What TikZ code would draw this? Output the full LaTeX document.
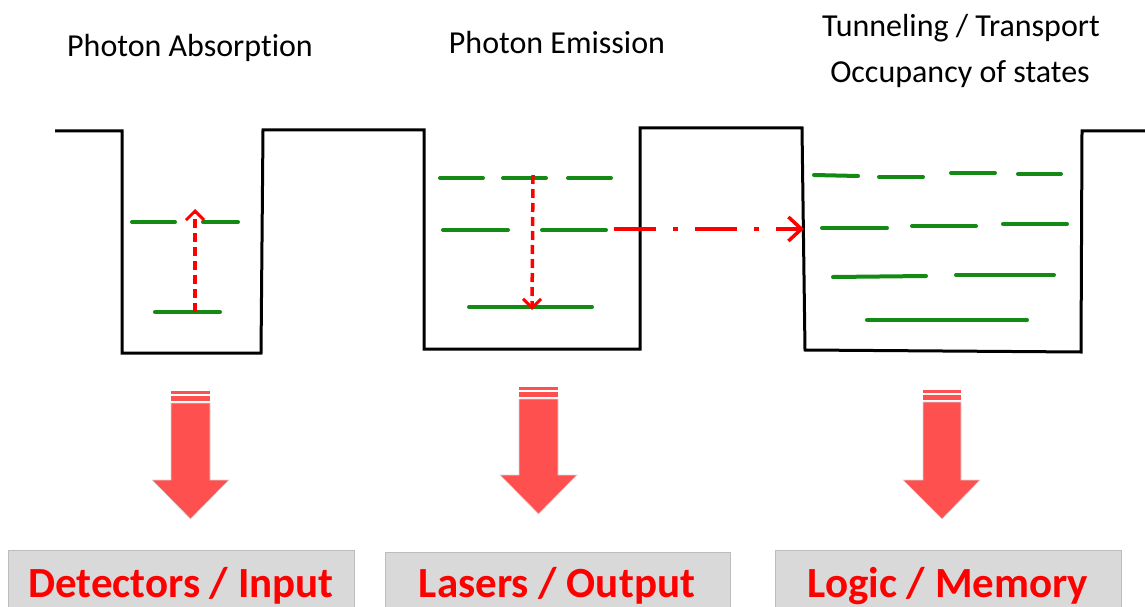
\documentclass[tikz,border=0pt]{standalone}
\usepackage{fontspec}
\setmainfont{Carlito}[Ligatures=NoCommon]
\usetikzlibrary{arrows.meta}
\definecolor{lvl}{HTML}{138A13}
\definecolor{blk}{HTML}{FF5050}
\definecolor{boxfill}{HTML}{D9D9D9}
\definecolor{boxline}{HTML}{BDBDBD}
\tikzset{
  well/.style={line width=3pt, black, line join=miter},
  level/.style={line width=4pt, lvl, line cap=round},
  trans/.style={line width=3.5pt, red, dash pattern=on 9pt off 5pt, -{Straight Barb[length=9pt,width=18pt,line width=3pt]}},
  tunnel/.style={line width=4.5pt, red, dash pattern=on 42pt off 17pt on 5pt off 17pt, -{Straight Barb[length=13pt,width=24pt,line width=3.5pt]}},
  blockarrow/.style={fill=blk, draw=boxline!60, line width=0.6pt},
  toplabel/.style={font=\fontsize{32}{38}\selectfont, anchor=base, inner sep=0pt},
  appbox/.style={fill=boxfill, draw=boxline, line width=1pt},
  applabel/.style={font=\fontsize{43}{50}\selectfont\bfseries, text=red, anchor=base, inner sep=0pt}
}
\begin{document}
\begin{tikzpicture}[x=1pt,y=-1pt]
\useasboundingbox (0,0) rectangle (1145,607);
% titles
\node[toplabel] (tabs) at (190,57) {Photon Absorption};
\node[toplabel] (temi) at (557,54) {Photon Emission};
\node[toplabel] (ttun) at (961,37) {Tunneling / Transport};
\node[toplabel] (tocc) at (960,83) {Occupancy of states};
% potential profile
\draw[well] (55,131) -- (122,131) -- (122,353) -- (261,353) -- (263,130) -- (424,130)
  -- (424,349) -- (640,349) -- (640,128) -- (802,128) -- (805,350) -- (1081,352)
  -- (1082,131) -- (1145,131);
% well 1 levels
\draw[level] (132,222) -- (175,222);
\draw[level] (203,222) -- (238,222);
\draw[level] (155,312) -- (220,312);
\coordinate (a1) at (195,312);
\coordinate (a2) at (195,209);
\draw[trans] (a1) -- (a2);
% well 2 levels
\draw[level] (440,178) -- (483,178);
\draw[level] (503,178) -- (546,178);
\draw[level] (568,178) -- (611,178);
\draw[level] (443,230) -- (508,230);
\draw[level] (542,230) -- (606,230);
\draw[level] (469,307) -- (592,307);
\coordinate (e1) at (533,175);
\coordinate (e2) at (532,310);
\draw[trans] (e1) -- (e2);
% tunneling arrow
\coordinate (t1) at (614,229);
\coordinate (t2) at (804,229);
\draw[tunnel] (t1) -- (t2);
% well 3 levels
\draw[level] (814,175) -- (858,176);
\draw[level] (879,177) -- (923,177);
\draw[level] (951,173) -- (995,173);
\draw[level] (1018,174) -- (1061,174);
\draw[level] (822,228) -- (887,228);
\draw[level] (912,226) -- (976,226);
\draw[level] (1003,224) -- (1067,224);
\draw[level] (833,277) -- (926,276);
\draw[level] (956,275) -- (1054,275);
\draw[level] (867,320) -- (1027,320);
% block arrows
\foreach \xl/\xr/\hl/\hr/\ys/\yb/\yh/\yt in {171/210/152/229/391/403/480/519, 519/558/500/577/387/399/475/514, 923/961/903/980/390/402/480/519}{
  \fill[blk] (\xl,\ys) rectangle (\xr,\ys+2.5);
  \fill[blk] (\xl,\ys+4.5) rectangle (\xr,\ys+10);
  \draw[blockarrow] (\xl,\yb) -- (\xr,\yb) -- (\xr,\yh) -- (\hr,\yh) -- ({(\xl+\xr)/2},\yt) -- (\hl,\yh) -- (\xl,\yh) -- cycle;
}
% application boxes
\draw[appbox] (8,550) rectangle (354,612);
\draw[appbox] (385,552) rectangle (730,612);
\draw[appbox] (775,550) rectangle (1121,612);
\node[applabel] (det) at (181,597) {Detectors / Input};
\node[applabel] (las) at (557,597) {Lasers / Output};
\node[applabel] (log) at (948,597) {Logic / Memory};
\end{tikzpicture}
\end{document}
